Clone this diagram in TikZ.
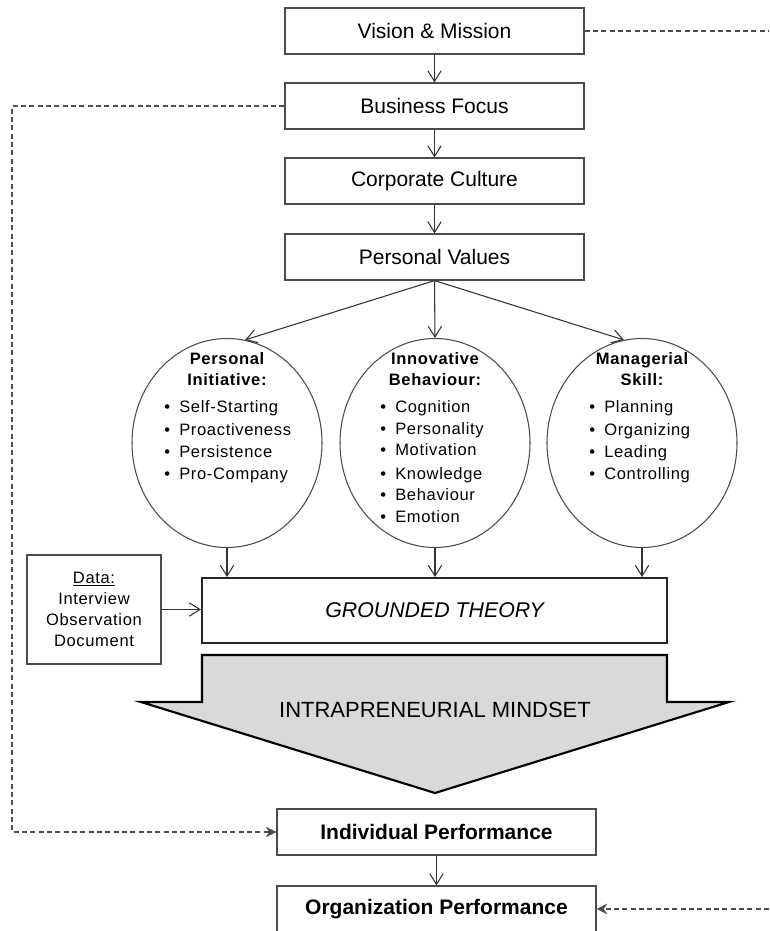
\documentclass[tikz,border=0pt]{standalone}
\usepackage{fontspec}
\setmainfont{Liberation Sans}
\newfontfamily\listfont[LetterSpace=4]{Liberation Sans}
\usetikzlibrary{arrows.meta,shapes.geometric}
\definecolor{boxline}{gray}{0.3}
\definecolor{arrowfill}{gray}{0.85}
\newcommand{\bul}{\llap{\textbullet\hspace{6.8pt}}}

\begin{document}
\begin{tikzpicture}[x=0.75pt,y=-0.75pt,
  box/.style={draw=boxline,line width=0.9pt,minimum width=224.25pt,minimum height=34.5pt,inner sep=0pt,font=\fontsize{15.75}{18}\selectfont},
  perfbox/.style={box,minimum width=239.25pt,font=\bfseries\fontsize{15.75}{18}\selectfont},
  oval/.style={draw=boxline,line width=0.8pt,ellipse,minimum width=142.5pt,minimum height=156.75pt,inner sep=0pt},
  hd/.style={anchor=base,inner sep=0pt,font=\listfont\bfseries\fontsize{12.4}{14}\selectfont},
  itm/.style={anchor=base west,inner sep=0pt,font=\listfont\fontsize{12.4}{14}\selectfont},
  flow/.style={draw=black!80,line width=0.8pt,-{Straight Barb[length=8pt,width=10pt]}},
  fb/.style={draw=boxline,line width=1pt,dash pattern=on 3.75pt off 2.5pt}]
\useasboundingbox (0,0) rectangle (769,931);
\coordinate (rgt) at (769,0);
\coordinate (lft) at (12,832);

\node[box] (vm) at (434.5,31) {Vision \& Mission};
\node[box] (bf) at (434.5,106) {Business Focus};
\node[box] (cc) at (434.5,181) {Corporate Culture};
\node[box] (pv) at (434.5,257) {Personal Values};
\draw[flow] (vm) -- (bf);
\draw[flow] (bf) -- (cc);
\draw[flow] (cc) -- (pv);

\node[oval] (pi) at (227,443) {};
\node[oval] (ib) at (435,443) {};
\node[oval] (ms) at (642,443) {};
\draw[flow] (pv.south) -- (pi.80);
\draw[flow] (pv.south) -- (ib.north);
\draw[flow] (pv.south) -- (ms.100);

\node[hd] (pih1) at (227,364) {Personal};
\node[hd] (pih2) at (227,385) {Initiative:};
\node[itm] (pi1) at (179,412) {\bul Self-Starting};
\node[itm] (pi2) at (179,435) {\bul Proactiveness};
\node[itm] (pi3) at (179,457) {\bul Persistence};
\node[itm] (pi4) at (179,479) {\bul Pro-Company};

\node[hd] (ibh1) at (435,364) {Innovative};
\node[hd] (ibh2) at (435,385) {Behaviour:};
\node[itm] (ib1) at (395,412) {\bul Cognition};
\node[itm] (ib2) at (395,434) {\bul Personality};
\node[itm] (ib3) at (395,455) {\bul Motivation};
\node[itm] (ib4) at (395,479) {\bul Knowledge};
\node[itm] (ib5) at (395,500) {\bul Behaviour};
\node[itm] (ib6) at (395,522) {\bul Emotion};

\node[hd] (msh1) at (642,364) {Managerial};
\node[hd] (msh2) at (642,385) {Skill:};
\node[itm] (ms1) at (604,412) {\bul Planning};
\node[itm] (ms2) at (604,435) {\bul Organizing};
\node[itm] (ms3) at (604,457) {\bul Leading};
\node[itm] (ms4) at (604,479) {\bul Controlling};

\node[draw=black!85,line width=1.5pt,minimum width=348.75pt,minimum height=48.75pt,inner sep=0pt,font=\itshape\fontsize{16}{18}\selectfont] (gt) at (434.5,610.5) {GROUNDED THEORY};
\node[draw=boxline,line width=0.8pt,minimum width=100.5pt,minimum height=81.75pt,inner sep=0pt,align=center,font=\listfont\fontsize{12.4}{15.75}\selectfont] (data) at (94,609.5) {\underline{Data:}\\Interview\\Observation\\Document};
\draw[flow] (pi.south) -- (pi.south |- gt.north);
\draw[flow] (ib.south) -- (ib.south |- gt.north);
\draw[flow] (ms.south) -- (ms.south |- gt.north);
\draw[flow] (data.east) -- (data.east -| gt.west);

\filldraw[fill=arrowfill,draw=black,line width=1.6pt] (202,655) -- (667,655) -- (667,702) -- (729,702) -- (435,793) -- (141,702) -- (202,702) -- cycle;
\node[anchor=base,inner sep=0pt,font=\fontsize{16.5}{18}\selectfont] (im) at (435,717) {INTRAPRENEURIAL MINDSET};

\node[perfbox] (ip) at (436.5,832) {Individual Performance};
\node[perfbox] (op) at (436.5,909) {Organization Performance};
\draw[flow] (ip) -- (op);

\draw[fb] (vm.east) -- (vm.east -| rgt);
\draw[fb,-{Stealth[length=8pt,width=8pt]}] (bf.west) -| (lft) -- (ip.west);
\draw[fb,-{Stealth[length=8pt,width=8pt]}] (rgt |- op.east) -- (op.east);
\end{tikzpicture}
\end{document}
